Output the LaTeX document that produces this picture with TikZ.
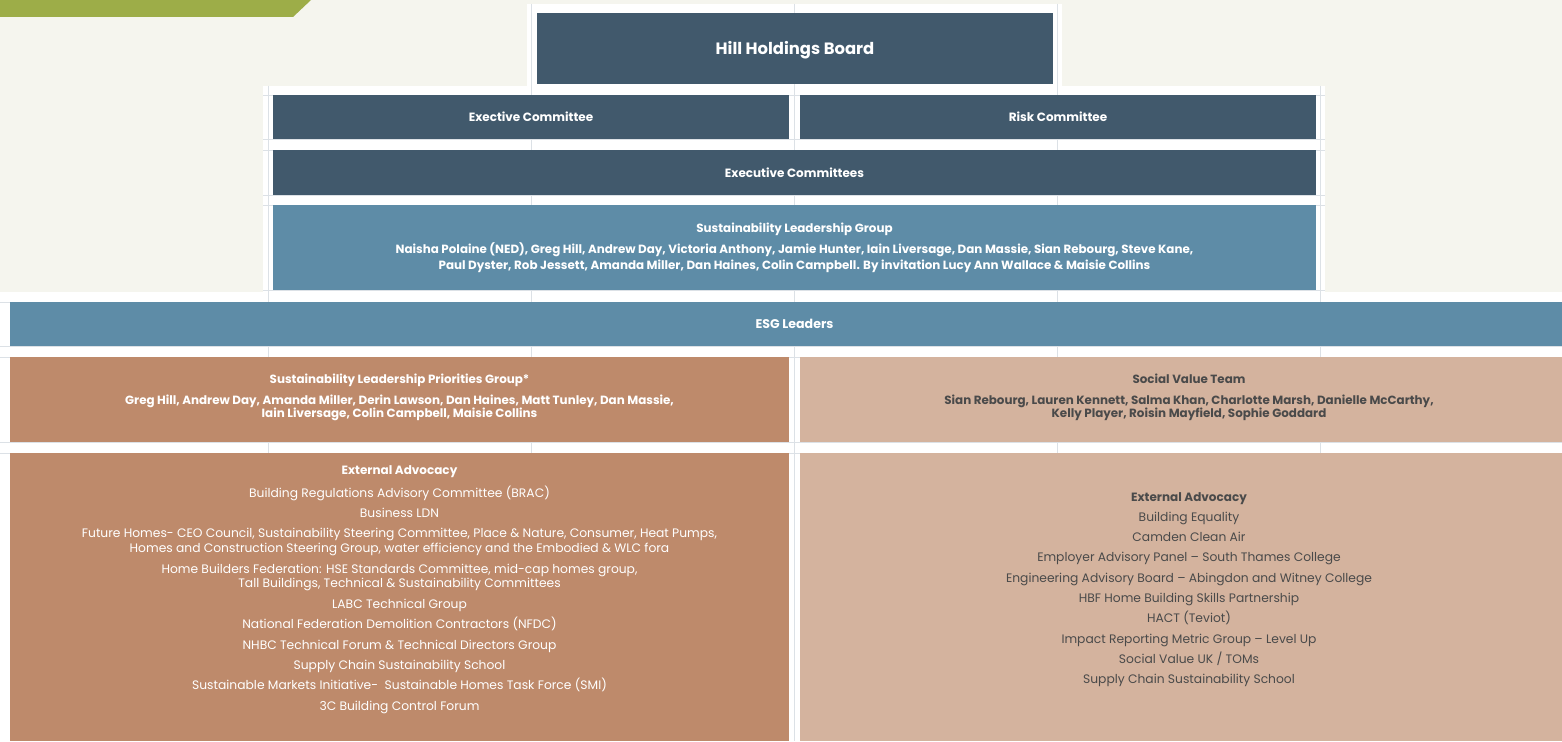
\documentclass[tikz,border=0pt]{standalone}
\usepackage{fontspec}
\setmainfont{Poppins}
\definecolor{page}{HTML}{F5F5EE}
\definecolor{leaf}{HTML}{9DAD48}
\definecolor{slate}{HTML}{41596C}
\definecolor{steel}{HTML}{5E8CA7}
\definecolor{clay}{HTML}{BE8A6B}
\definecolor{sand}{HTML}{D4B39E}
\definecolor{rule}{HTML}{DCE1E6}
\definecolor{ink}{HTML}{4A4A4A}
\tikzset{
  cell/.style={anchor=north west, inner sep=0pt, outer sep=0pt, fill=#1},
  head/.style={font=\fontsize{12}{14}\selectfont\bfseries, text=white},
  body/.style={align=center, text=white, inner sep=0pt},
}
\begin{document}
\begin{tikzpicture}[x=1pt, y=-1pt]
  \useasboundingbox (0,0) rectangle (1562,741);
  \fill[page] (0,0) rectangle (1562,741);
  \fill[leaf] (0,0) -- (311,0) -- (293,17) -- (0,17) -- cycle;
  % white table panels
  \fill[white] (527,4) rectangle (1062,88);
  \fill[white] (263,86) rectangle (1325,292);
  \fill[white] (0,292) rectangle (1562,741);
  % cell rules
  \foreach \x in {531,794,1057} \draw[rule, thin] (\x,4) -- (\x,741);
  \foreach \x in {268,1320} \draw[rule, thin] (\x,86) -- (\x,741);
  \foreach \y in {95,139,150,195,205,290} \draw[rule, thin] (263,\y) -- (1325,\y);
  \foreach \y in {302,346,357,442,453} \draw[rule, thin] (0,\y) -- (1562,\y);
  % boxes
  \node[cell=slate, minimum width=516pt, minimum height=71pt] (board) at (537,13) {};
  \node[cell=slate, minimum width=516pt, minimum height=44pt] (exec) at (273,95) {};
  \node[cell=slate, minimum width=516pt, minimum height=44pt] (risk) at (800,95) {};
  \node[cell=slate, minimum width=1043pt, minimum height=45pt] (execs) at (273,150) {};
  \node[cell=steel, minimum width=1043pt, minimum height=85pt] (slg) at (273,205) {};
  \node[cell=steel, minimum width=1552pt, minimum height=44pt] (esg) at (10,302) {};
  \node[cell=clay, minimum width=779pt, minimum height=85pt] (slpg) at (10,357) {};
  \node[cell=sand, minimum width=762pt, minimum height=85pt] (svt) at (800,357) {};
  \node[cell=clay, minimum width=779pt, minimum height=288pt] (extl) at (10,453) {};
  \node[cell=sand, minimum width=762pt, minimum height=288pt] (extr) at (800,453) {};
  % labels
  \node[head, font=\fontsize{16.4}{18}\selectfont\bfseries] (boardlbl) at (795,50) {Hill Holdings Board};
  \node[head] (execlbl) at (exec.center) {Exective Committee};
  \node[head] (risklbl) at (risk.center) {Risk Committee};
  \node[head] (execslbl) at (execs.center) {Executive Committees};
  \node[head, font=\fontsize{12.6}{14}\selectfont\bfseries] (esglbl) at (794.5,324) {ESG Leaders};
  \node[body, font=\fontsize{11.9}{16}\selectfont\bfseries] (slglbl) at (794.5,247.5) {%
    Sustainability Leadership Group\\[5pt]
    Naisha Polaine (NED), Greg Hill, Andrew Day, Victoria Anthony, Jamie Hunter, Iain Liversage, Dan Massie, Sian Rebourg, Steve Kane,\\
    Paul Dyster, Rob Jessett, Amanda Miller, Dan Haines, Colin Campbell. By invitation Lucy Ann Wallace \& Maisie Collins};
  \node[body, font=\fontsize{11.9}{13.5}\selectfont\bfseries] (slpglbl) at (399.5,397.5) {%
    Sustainability Leadership Priorities Group*\\[7.5pt]
    Greg Hill, Andrew Day, Amanda Miller, Derin Lawson, Dan Haines, Matt Tunley, Dan Massie,\\
    Iain Liversage, Colin Campbell, Maisie Collins};
  \node[body, text=ink, font=\fontsize{11.9}{13.5}\selectfont\bfseries] (svtlbl) at (1189,397.5) {%
    Social Value Team\\[7.5pt]
    Sian Rebourg, Lauren Kennett, Salma Khan, Charlotte Marsh, Danielle McCarthy,\\
    Kelly Player, Roisin Mayfield, Sophie Goddard};
  \node[body, font=\fontsize{12.3}{14.8}\selectfont] (extllbl) at (399.5,589.5) {%
    \textbf{\fontsize{12}{14.8}\selectfont External Advocacy}\\[8.2pt]
    Building Regulations Advisory Committee (BRAC)\\[5.6pt]
    Business LDN\\[5.6pt]
    Future Homes- CEO Council, Sustainability Steering Committee, Place \& Nature, Consumer, Heat Pumps,\\
    Homes and Construction Steering Group, water efficiency and the Embodied \& WLC fora\\[5.6pt]
    Home Builders Federation: HSE Standards Committee, mid-cap homes group,\\
    Tall Buildings, Technical \& Sustainability Committees\\[5.6pt]
    LABC Technical Group\\[5.6pt]
    National Federation Demolition Contractors (NFDC)\\[5.6pt]
    NHBC Technical Forum \& Technical Directors Group\\[5.6pt]
    Supply Chain Sustainability School\\[5.6pt]
    Sustainable Markets Initiative-\ \ Sustainable Homes Task Force (SMI)\\[5.6pt]
    3C Building Control Forum};
  \node[body, text=ink, font=\fontsize{12.3}{20.3}\selectfont] (extrlbl) at (1189,589.5) {%
    \textbf{\fontsize{12}{20.3}\selectfont External Advocacy}\\
    Building Equality\\
    Camden Clean Air\\
    Employer Advisory Panel – South Thames College\\
    Engineering Advisory Board – Abingdon and Witney College\\
    HBF Home Building Skills Partnership\\
    HACT (Teviot)\\
    Impact Reporting Metric Group – Level Up\\
    Social Value UK / TOMs\\
    Supply Chain Sustainability School};
\end{tikzpicture}
\end{document}
